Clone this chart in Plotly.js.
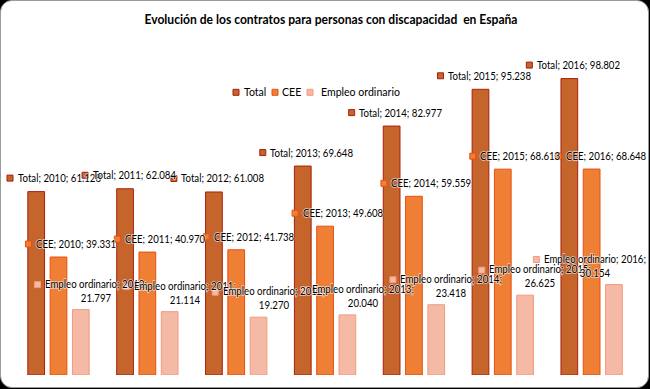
<!DOCTYPE html>
<html>
<head>
<meta charset="utf-8">
<script src="https://cdn.plot.ly/plotly-3.0.1.min.js"></script>
<style>
  html, body { margin: 0; padding: 0; background: #000; }
  #bg { position: absolute; left: 0; top: 0; width: 649px; height: 388px; box-sizing: border-box;
        background: #fff; border: 1px solid #9a9a9a; border-radius: 12px; }
  #chart { position: absolute; left: 0; top: 0; width: 650px; height: 389px; }
  .annotation-text { paint-order: stroke; stroke: rgba(255,255,255,0.7); stroke-width: 1.5px;
        transform-box: fill-box; transform-origin: left center; transform: scaleX(0.92); }
  .gtitle { transform-box: fill-box; transform-origin: center; transform: scaleX(0.93); }
</style>
</head>
<body>
<div id="bg"></div>
<div id="chart"></div>
<script>
// ---- data ----
const years = ['2010', '2011', '2012', '2013', '2014', '2015', '2016'];
const total = [61.128, 62.084, 61.008, 69.648, 82.977, 95.238, 98.802];
const cee = [39.331, 40.970, 41.738, 49.608, 59.559, 68.613, 68.648];
const empleo = [21.797, 21.114, 19.270, 20.040, 23.418, 26.625, 30.154];
const seriesNames = ['Total', 'CEE', 'Empleo ordinario'];
const titleText = 'Evolución de los contratos para personas con discapacidad  en España';

// ---- styles ----
const fills = ['#C5652C', '#EE7F35', '#F5BAA6'];
const lines = ['#A8200C', '#E8500F', '#F29A7E'];
const FONT = 'Lato, "Liberation Sans", Arial, sans-serif';
const LABEL_SIZE = 10.5, SCALE = 0.92;

const W = 650, H = 389;
const M = { l: 0, r: 0, t: 44.7, b: 14 };
const catW = 88.857;                 // px per category
const firstCentre = 58.5;            // px of first category centre
const xMin = -firstCentre / catW;
const xMax = xMin + W / catW;

const cv = document.createElement('canvas').getContext('2d');
cv.font = LABEL_SIZE + 'px Lato';
const textW = t => Math.max(...t.split('<br>').map(l => cv.measureText(l).width)) * SCALE;

const seriesVals = [total, cee, empleo];
const traces = seriesVals.map((vals, s) => ({
  type: 'bar', name: seriesNames[s], x: years, y: vals,
  marker: { color: fills[s], line: { color: lines[s], width: 1 } },
  hoverinfo: 'none'
}));

const annotations = [];
const shapes = [];
const fmt = v => v.toFixed(3);

function markerShape(xref, xanchor, yref, yanchor, x0, yc, s) {
  shapes.push({
    type: 'rect', xref: xref, yref: yref, xsizemode: 'pixel', ysizemode: 'pixel',
    xanchor: xanchor, yanchor: yanchor,
    x0: x0, x1: x0 + 6, y0: yc - 3, y1: yc + 3,
    fillcolor: fills[s], line: { color: lines[s], width: 1 }, layer: 'above'
  });
}

// label offsets relative to category centre (px)
const markerOff = [-65.3, -33, -24];
const yOff = [13.5, 13, 12.5];
const TEXT_GAP = 9.5;
seriesVals.forEach((vals, s) => {
  vals.forEach((v, i) => {
    const cx = firstCentre + catW * i;
    const txt = s === 2
      ? seriesNames[s] + '; ' + years[i] + ';<br>' + fmt(v)
      : seriesNames[s] + '; ' + years[i] + '; ' + fmt(v);
    let off = markerOff[s];
    if (cx + off < 7) off = 7 - cx;
    const over = cx + off + TEXT_GAP + textW(txt) - 645;
    if (over > 0) off -= over;
    const markerY = s === 2 ? yOff[s] + 12.5 : yOff[s];
    markerShape('x', i, 'y', v, off, markerY, s);
    annotations.push({
      xref: 'x', yref: 'y', x: i, y: v, xanchor: 'left', yanchor: 'middle',
      xshift: off + TEXT_GAP, yshift: s === 2 ? yOff[s] + 6.25 : yOff[s],
      text: txt, showarrow: false, align: 'center', borderpad: 0,
      font: { family: FONT, size: LABEL_SIZE, color: '#000' }
    });
  });
});

// legend (drawn as shapes + text)
const legMarkerPx = [233, 272, 307];
const legTextPx = [243, 281, 320];
const legY = 92;
const plotH = H - M.t - M.b;
seriesNames.forEach((n, s) => {
  markerShape('paper', 0, 'paper', 1, legMarkerPx[s], -(legY - M.t), s);
  annotations.push({
    xref: 'paper', yref: 'paper', x: legTextPx[s] / W, y: (H - M.b - legY) / plotH,
    xanchor: 'left', yanchor: 'middle', text: n, showarrow: false, borderpad: 0,
    font: { family: FONT, size: 11.5, color: '#000' }
  });
});

const layout = {
  width: W, height: H,
  margin: M,
  paper_bgcolor: 'rgba(0,0,0,0)', plot_bgcolor: 'rgba(0,0,0,0)',
  title: { text: '<b>' + titleText + '</b>', x: 331 / W, xanchor: 'center', y: 1 - 19.5 / H, yanchor: 'middle',
           font: { family: FONT, size: 13, color: '#000' } },
  barmode: 'group', bargap: 0.247, bargroupgap: 0.25,
  showlegend: false,
  xaxis: { type: 'category', visible: false, range: [xMin, xMax] },
  yaxis: { visible: false, range: [0, 110] },
  annotations: annotations, shapes: shapes
};

Plotly.newPlot('chart', traces, layout, { staticPlot: true, displayModeBar: false });
</script>
</body>
</html>
